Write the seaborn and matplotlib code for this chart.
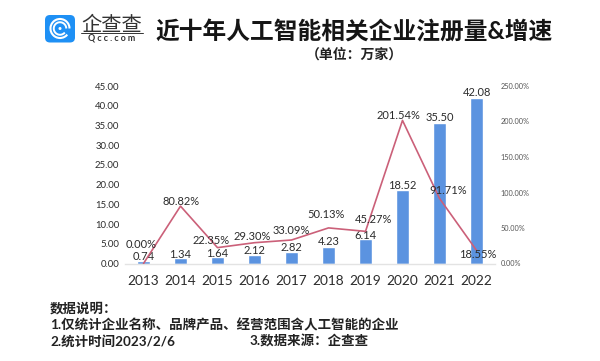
import numpy as np
import matplotlib
matplotlib.use('Agg')
import matplotlib.pyplot as plt
from matplotlib.patches import FancyBboxPatch, Arc, Circle
import seaborn as sns

# chart data
years = ['2013', '2014', '2015', '2016', '2017', '2018', '2019', '2020', '2021', '2022']
registered = [0.74, 1.34, 1.64, 2.12, 2.82, 4.23, 6.14, 18.52, 35.50, 42.08]
growth = [0.00, 80.82, 22.35, 29.30, 33.09, 50.13, 45.27, 201.54, 91.71, 18.55]
left_ticks = [0, 5, 10, 15, 20, 25, 30, 35, 40, 45]
right_ticks = [0, 50, 100, 150, 200, 250]

# label offsets from the mark, in pixels
bar_dy = [4, 4, 4, 5, 5, 5, 4, 4.5, 6, 5]
line_dx = [-2, 1, -6, -2, 0, -2, 8, -4, 9, 1]
line_dy = [19.5, 5, 7.6, 5.7, 10, 13, 12, 5, 8, -4]

W, H = 600, 361
BLUE = '#5B93E0'
PINK = '#CB6079'
TEXT = '#2B2B2B'

sns.set_theme(style='white')
plt.rcParams['font.family'] = ['Lato', 'Noto Sans CJK SC', 'DejaVu Sans']


def px(v):
    # pixels to points at dpi 100
    return v * 0.72


fig = plt.figure(figsize=(W / 100, H / 100), dpi=100, facecolor='white')

# ==========================================
# Bars + line
# ==========================================
ax = fig.add_axes([125 / W, 1 - 263.5 / H, 370 / W, 177.5 / H])
ax.set_facecolor('none')
sns.barplot(x=years, y=registered, color=BLUE, width=0.33, saturation=1, ax=ax)
ax.set_xlim(-0.5, 9.5)
ax.set_ylim(0, 45)
ax.set_yticks(left_ticks)
ax.set_yticklabels([f'{t:.2f}' for t in left_ticks], fontsize=6.9, color=TEXT)
ax.tick_params(axis='x', length=0, pad=8.5, labelsize=9.8, labelcolor=TEXT)
ax.tick_params(axis='y', length=0, pad=4)
sns.despine(ax=ax, left=True)
ax.spines['bottom'].set_color('#E3E3E3')
ax.spines['bottom'].set_linewidth(1.0)

ax2 = ax.twinx()
sns.lineplot(x=np.arange(len(years)), y=growth, color=PINK, linewidth=1.2, ax=ax2)
ax2.set_ylim(0, 250)
ax2.set_yticks(right_ticks)
ax2.set_yticklabels([f'{t:.2f}%' for t in right_ticks], fontsize=5.3, color='#555555')
ax2.tick_params(axis='y', length=0, pad=4)
ax2.grid(False)
for s in ax2.spines.values():
    s.set_visible(False)

for i, v in enumerate(registered):
    ax.annotate(f'{v:.2f}', (i, v), xytext=(0, px(bar_dy[i])), textcoords='offset points',
                ha='center', va='center', fontsize=8, color=TEXT, zorder=5)
for i, g in enumerate(growth):
    ax2.annotate(f'{g:.2f}%', (i, g), xytext=(px(line_dx[i]), px(line_dy[i])),
                 textcoords='offset points', ha='center', va='center', fontsize=8,
                 color=TEXT, zorder=5)

# ==========================================
# Header, logo, footnotes (pixel coordinates)
# ==========================================
top = fig.add_axes([0, 0, 1, 1])
top.set_xlim(0, W)
top.set_ylim(H, 0)
top.axis('off')
top.patch.set_alpha(0)

top.add_patch(FancyBboxPatch((49, 19), 22, 19.5, boxstyle='round,pad=4,rounding_size=5',
                             fc='#1E90F5', ec='none'))
for d, lw in [(19, 1.5), (12.5, 1.4)]:
    top.add_patch(Arc((60, 28.5), d, d, theta1=40, theta2=360, color='white', lw=lw))
top.add_patch(Circle((60, 28.5), 1.5, fc='white', ec='none'))

top.text(111.5, 24.5, '企查查', ha='center', va='center', fontsize=14.6, color='#333333')
top.plot([81, 143], [33.2, 33.2], color='#333333', lw=0.7)
top.text(112, 38.5, 'Q c c . c o m', ha='center', va='center', fontsize=6.4, color='#333333',
         fontweight='bold')

top.text(155, 31, '近十年人工智能相关企业注册量&增速', ha='left', va='center',
         fontsize=17.1, fontweight='bold', color='#151515')
top.text(306, 54, '（单位：万家）', ha='left', va='center', fontsize=10,
         fontweight='bold', color='#222222')

FOOT = 9.7
top.text(50, 308, '数据说明：', ha='left', va='center', fontsize=FOOT, fontweight='bold', color='#222222')
top.text(50, 324.5, '1.仅统计企业名称、品牌产品、经营范围含人工智能的企业', ha='left', va='center',
         fontsize=FOOT, fontweight='bold', color='#222222')
top.text(50, 341, '2.统计时间2023/2/6', ha='left', va='center', fontsize=FOOT, fontweight='bold', color='#222222')
top.text(250, 341, '3.数据来源：企查查', ha='left', va='center', fontsize=FOOT, fontweight='bold', color='#222222')

fig.savefig('out.png', dpi=100)
